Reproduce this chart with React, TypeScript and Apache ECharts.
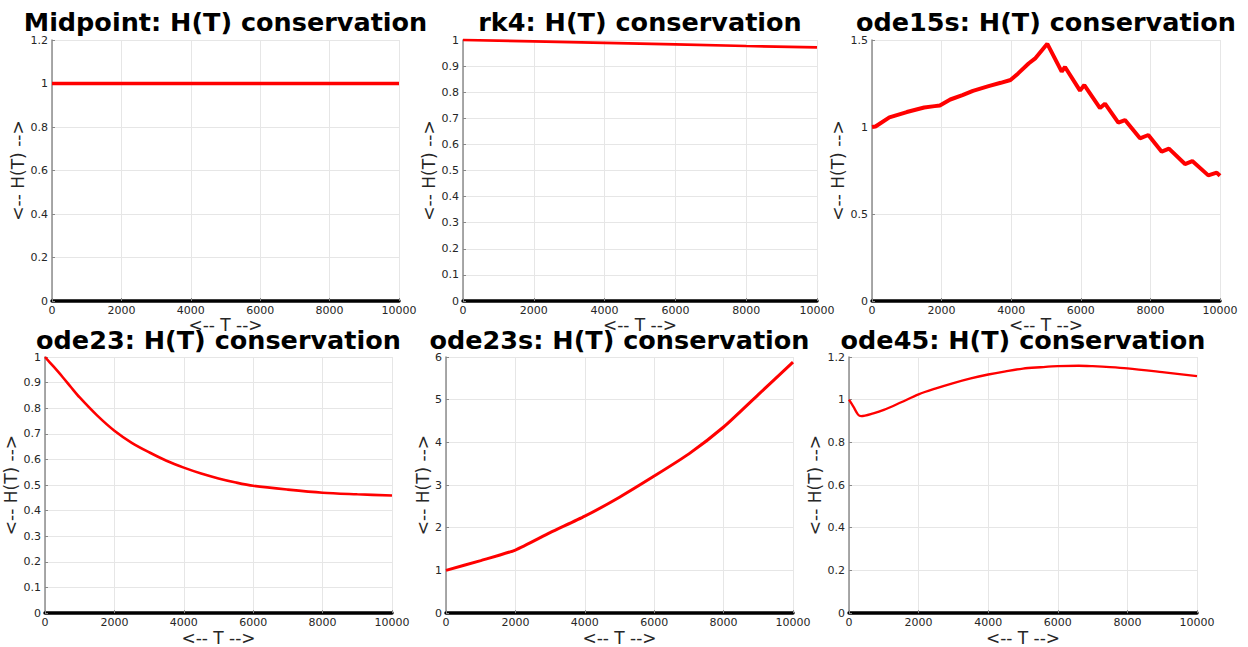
import React, { useEffect, useRef } from "react";
import * as echarts from "echarts";

const TITLES = [
  "Midpoint: H(T) conservation",
  "rk4: H(T) conservation",
  "ode15s: H(T) conservation",
  "ode23: H(T) conservation",
  "ode23s: H(T) conservation",
  "ode45: H(T) conservation",
];

const T_MID = [0, 10000];
const H_MID = [1, 1];

const T_RK4 = [0, 2000, 4000, 6000, 8000, 10000];
const H_RK4 = [1.0, 0.995, 0.989, 0.983, 0.977, 0.972];

const T_ODE15S = [0, 100, 500, 1000, 1500, 1800, 1950, 2250, 2600, 2900, 3350, 3700, 3980, 4200, 4500, 4700, 5038, 5451, 5546, 5977, 6101, 6552, 6695, 7078, 7270, 7701, 7940, 8325, 8534, 8994, 9204, 9664, 9905, 10000];
const H_ODE15S = [1.0, 1.003, 1.055, 1.086, 1.112, 1.12, 1.124, 1.158, 1.183, 1.208, 1.235, 1.254, 1.27, 1.308, 1.365, 1.396, 1.478, 1.318, 1.345, 1.209, 1.241, 1.109, 1.134, 1.025, 1.04, 0.935, 0.954, 0.858, 0.876, 0.787, 0.804, 0.722, 0.738, 0.72];

const T_ODE23 = [0, 250, 500, 750, 1000, 1500, 2000, 2500, 3000, 3500, 4000, 4500, 5000, 5500, 6000, 7000, 8000, 9000, 10000];
const H_ODE23 = [1.0, 0.962, 0.923, 0.882, 0.842, 0.772, 0.712, 0.665, 0.628, 0.595, 0.568, 0.545, 0.526, 0.51, 0.497, 0.482, 0.47, 0.464, 0.459];

const T_ODE23S = [0, 1000, 2000, 3000, 4000, 5000, 6000, 7000, 8000, 9000, 10000];
const H_ODE23S = [1.0, 1.23, 1.477, 1.885, 2.27, 2.715, 3.21, 3.73, 4.36, 5.12, 5.88];

const T_ODE45 = [0, 130, 260, 350, 700, 1000, 1500, 2000, 2500, 3000, 3500, 4000, 4500, 5000, 5500, 6000, 6600, 7000, 7500, 8000, 9000, 10000];
const H_ODE45 = [1.0, 0.966, 0.93, 0.923, 0.936, 0.952, 0.988, 1.025, 1.053, 1.078, 1.1, 1.118, 1.133, 1.146, 1.152, 1.157, 1.159, 1.157, 1.153, 1.147, 1.129, 1.11];

const Y_MAX = [1.2, 1, 1.5, 1, 6, 1.2];
const Y_INTERVAL = [0.2, 0.1, 0.5, 0.1, 1, 0.2];
const X_MAX = 10000;
const X_INTERVAL = 2000;

const SERIES_T = [T_MID, T_RK4, T_ODE15S, T_ODE23, T_ODE23S, T_ODE45];
const SERIES_H = [H_MID, H_RK4, H_ODE15S, H_ODE23, H_ODE23S, H_ODE45];

// layout (pixels)
const GRIDS = [
  { left: 52, top: 40, width: 347, height: 261 },
  { left: 463, top: 40, width: 354, height: 261 },
  { left: 872, top: 40, width: 348, height: 261 },
  { left: 45, top: 357, width: 347, height: 260 },
  { left: 446, top: 357, width: 347, height: 260 },
  { left: 849, top: 357, width: 348, height: 260 },
];
const Y_NAME_GAP = [24, 16, 22, 18, 14, 18];
const LINE_W = [3.5, 2.7, 4, 2.6, 3, 2.3];
const SMOOTH = [false, false, false, 0.3, 0.2, 0.3];
const TITLE_TOP = [12, 12, 12, 330, 330, 330];

const FONT = "DejaVu Sans";

export default function App() {
  const ref = useRef<HTMLDivElement>(null);
  useEffect(() => {
    if (!ref.current) return;
    const chart = echarts.init(ref.current, null, { renderer: "svg" });
    const option: any = {
      animation: false,
      backgroundColor: "#ffffff",
      title: TITLES.map((t, i) => ({
        text: t,
        left: GRIDS[i].left + GRIDS[i].width / 2,
        top: TITLE_TOP[i],
        textAlign: "center",
        padding: 0,
        textStyle: {
          fontFamily: FONT,
          fontWeight: "bold",
          fontSize: 25.5,
          lineHeight: 20,
          color: "#000",
        },
      })),
      grid: GRIDS.map((g) => ({ ...g, containLabel: false })),
      xAxis: GRIDS.map((_, i) => ({
        type: "value",
        gridIndex: i,
        min: 0,
        max: X_MAX,
        interval: X_INTERVAL,
        name: "<-- T -->",
        nameLocation: "middle",
        nameGap: 6,
        nameTextStyle: { fontFamily: FONT, fontSize: 17, color: "#262626", lineHeight: 14 },
        axisLine: { show: true, onZero: false, lineStyle: { color: "#000", width: 3.5 } },
        axisTick: { show: true, inside: true, length: 3, lineStyle: { color: "#888", width: 1 } },
        axisLabel: {
          fontFamily: FONT,
          fontSize: 11,
          color: "#262626",
          margin: 4,
          formatter: (v: number) => String(v),
        },
        splitLine: { show: true, lineStyle: { color: "#e6e6e6", width: 1 } },
      })),
      yAxis: GRIDS.map((_, i) => ({
        type: "value",
        gridIndex: i,
        min: 0,
        max: Y_MAX[i],
        interval: Y_INTERVAL[i],
        name: "<-- H(T) -->",
        nameLocation: "middle",
        nameRotate: 90,
        nameGap: Y_NAME_GAP[i],
        nameTextStyle: { fontFamily: FONT, fontSize: 17, color: "#262626" },
        axisLine: { show: true, lineStyle: { color: "#8c8c8c", width: 1.5 } },
        axisTick: { show: true, inside: true, length: 3, lineStyle: { color: "#888", width: 1 } },
        axisLabel: {
          fontFamily: FONT,
          fontSize: 11,
          color: "#262626",
          margin: 4,
          formatter: (v: number) => String(Math.round(v * 100) / 100),
        },
        splitLine: { show: true, lineStyle: { color: "#e6e6e6", width: 1 } },
      })),
      series: SERIES_T.map((ts, i) => ({
        type: "line",
        xAxisIndex: i,
        yAxisIndex: i,
        data: ts.map((t, k) => [t, SERIES_H[i][k]]),
        showSymbol: false,
        clip: false,
        smooth: SMOOTH[i],
        lineStyle: { color: "#ff0000", width: LINE_W[i] },
        itemStyle: { color: "#ff0000" },
        z: 3,
      })),
    };
    chart.setOption(option);
    return () => chart.dispose();
  }, []);
  return (
    <div
      ref={ref}
      style={{ position: "absolute", left: 0, top: 0, width: 1248, height: 647 }}
    />
  );
}
